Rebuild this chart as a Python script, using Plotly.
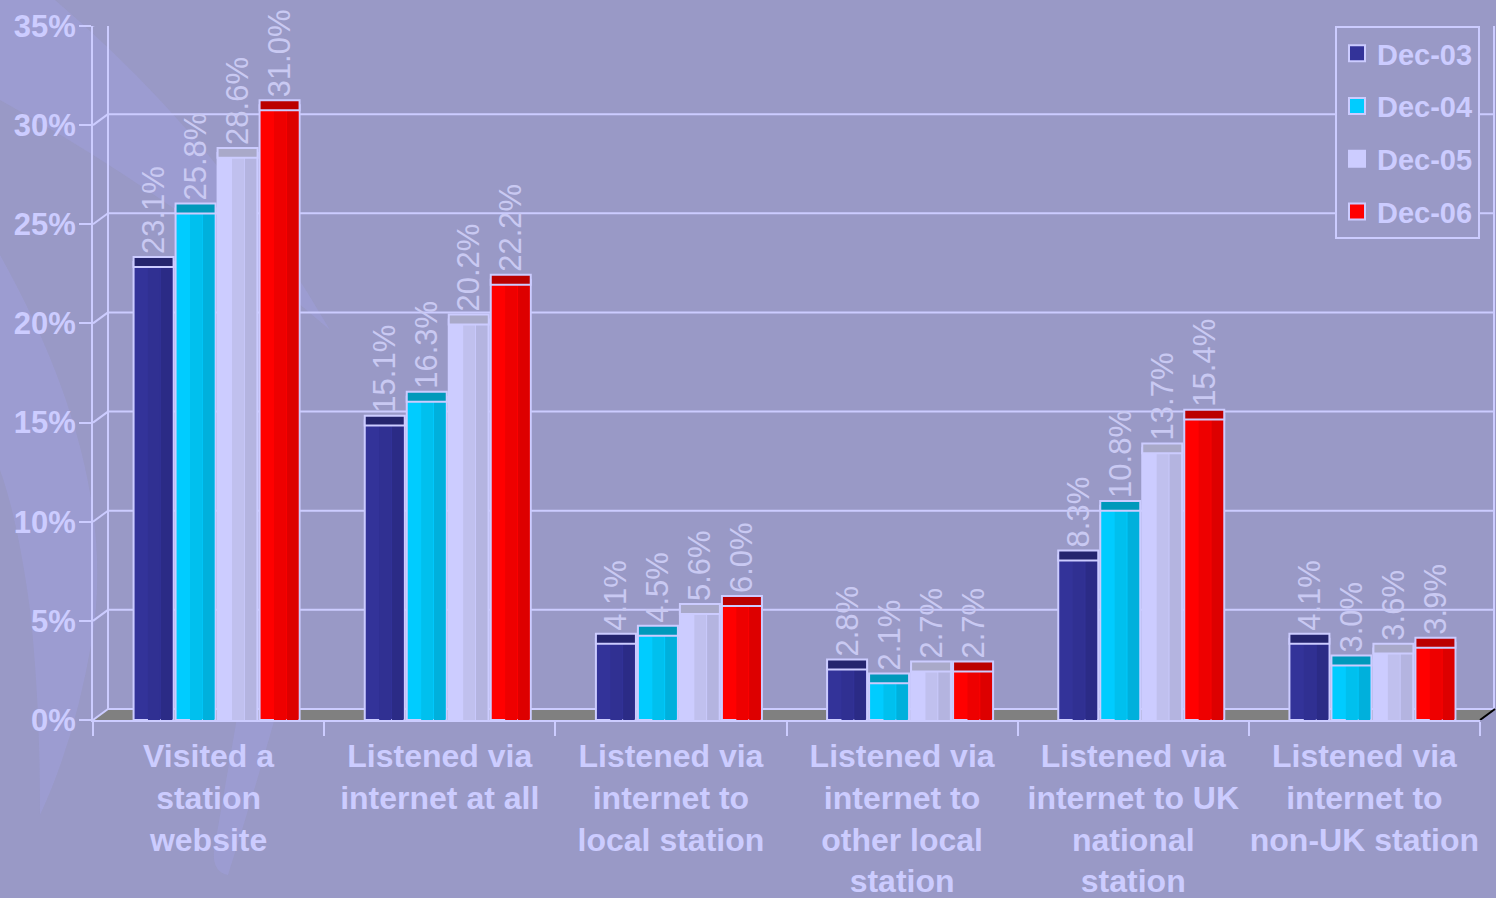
import plotly.graph_objects as go

W, H = 1496, 898

categories = [
    "Visited a<br>station<br>website",
    "Listened via<br>internet at all",
    "Listened via<br>internet to<br>local station",
    "Listened via<br>internet to<br>other local<br>station",
    "Listened via<br>internet to UK<br>national<br>station",
    "Listened via<br>internet to<br>non-UK station",
]
series_names = ["Dec-03", "Dec-04", "Dec-05", "Dec-06"]
dec03 = [23.1, 15.1, 4.1, 2.8, 8.3, 4.1]
dec04 = [25.8, 16.3, 4.5, 2.1, 10.8, 3.0]
dec05 = [28.6, 20.2, 5.6, 2.7, 13.7, 3.6]
dec06 = [31.0, 22.2, 6.0, 2.7, 15.4, 3.9]
series_values = [dec03, dec04, dec05, dec06]
y_ticks = [0, 5, 10, 15, 20, 25, 30, 35]

# left / middle / right / cap shades (cylinder look)
shades = [
    ("#333399", "#303092", "#2B2B86", "#25256E"),
    ("#00CCFF", "#00C0EE", "#00B0DC", "#0099BB"),
    ("#CCCCFF", "#C0C0EE", "#B4B4E0", "#A9A9C9"),
    ("#FF0000", "#EE0000", "#DD0000", "#BB0000"),
]

BG = "#9999C6"
LAV = "#CCCCFF"
FONT = "Liberation Sans, Arial, sans-serif"
CAP_H = 0.5  # cap thickness in axis units (visual styling)

fig = go.Figure()

x_front0, x_front1 = 93, 1480
y0_px, y35_px = 720, 26
DX, DY = 15, 11
slot = (x_front1 - x_front0) / len(categories)
shift = 8 / slot
bw = 40 / slot
pitch = 42 / slot
start = -(4 * pitch - (pitch - bw)) / 2 + shift

for i, (name, vals) in enumerate(zip(series_names, series_values)):
    off = start + i * pitch
    c_l, c_m, c_r, c_cap = shades[i]
    fig.add_trace(go.Bar(
        x=categories, y=vals, name=name, legendgroup=name, showlegend=False,
        offset=off, width=bw,
        marker=dict(color=c_l, line=dict(color=LAV, width=2)),
        hoverinfo="skip",
    ))
    fig.add_trace(go.Bar(
        x=categories, y=vals, legendgroup=name, showlegend=False,
        offset=off + bw * 0.36, width=bw * 0.3,
        marker=dict(color=c_m, line=dict(width=0)), hoverinfo="skip",
    ))
    fig.add_trace(go.Bar(
        x=categories, y=vals, legendgroup=name, showlegend=False,
        offset=off + bw * 0.68, width=bw * 0.29,
        marker=dict(color=c_r, line=dict(width=0)), hoverinfo="skip",
    ))
    # cylinder top cap carrying the value label
    fig.add_trace(go.Bar(
        x=categories, y=[CAP_H] * len(vals), base=[v - CAP_H / 2 for v in vals],
        legendgroup=name, showlegend=False,
        offset=off, width=bw,
        marker=dict(color=c_cap, line=dict(color=LAV, width=2)),
        text=[f"{v:.1f}%" for v in vals], textposition="outside",
        textangle=-90, constraintext="none", cliponaxis=False,
        textfont=dict(family=FONT, size=31, color="#C9C9F2"),
        hoverinfo="skip",
    ))
    # legend proxy (square swatch with light border)
    fig.add_trace(go.Scatter(
        x=[None], y=[None], mode="markers", name=name, legendgroup=name,
        marker=dict(symbol="square", size=16, color=c_l, line=dict(color=LAV, width=2)),
        hoverinfo="skip",
    ))

shapes = []
# decorative background swooshes (pixel paths anchored to top-left of page)
swooshes = [
    "M 0 0 L 55 0 Q 220 140 330 330 Q 180 200 0 100 Z",
    "M 0 255 Q 120 470 92 640 Q 75 740 40 815 Q 40 700 30 610 Q 18 520 0 470 Z",
    "M 240 700 L 280 700 Q 255 790 228 875 Q 212 872 214 850 Q 228 770 240 700 Z",
]
for p in swooshes:
    pts = p.split()
    toks = []
    j = 0
    while j < len(pts):
        t = pts[j]
        if t.isalpha():
            toks.append(t)
            j += 1
        else:
            toks.append(pts[j])
            toks.append(str(-float(pts[j + 1])))
            j += 2
    shapes.append(dict(
        type="path", xref="paper", yref="paper", xsizemode="pixel", ysizemode="pixel",
        xanchor=0, yanchor=1, path=" ".join(toks),
        fillcolor="rgba(160,160,220,0.5)", line=dict(width=0), layer="below",
    ))
# floor
shapes.append(dict(
    type="path", xref="paper", yref="y", xsizemode="pixel", ysizemode="pixel",
    xanchor=x_front0 / W, yanchor=0,
    path=f"M 0 0 L {x_front1 - x_front0} 0 L {x_front1 - x_front0 + DX} {DY} L {DX} {DY} Z",
    fillcolor="#808080", line=dict(width=0), layer="below",
))
# back gridlines and diagonal connectors
for v in y_ticks:
    shapes.append(dict(
        type="line", xref="paper", yref="y", ysizemode="pixel", yanchor=v,
        x0=(x_front0 + DX) / W, x1=(x_front1 + DX) / W, y0=DY, y1=DY,
        line=dict(color=LAV, width=2), layer="below",
    ))
    shapes.append(dict(
        type="line", xref="paper", yref="y", xsizemode="pixel", ysizemode="pixel",
        xanchor=x_front0 / W, yanchor=v, x0=0, x1=DX, y0=0, y1=DY,
        line=dict(color=LAV, width=2), layer="below",
    ))
# back wall verticals
for xp in (x_front0 + DX, x_front1 + DX - 1):
    shapes.append(dict(
        type="line", xref="paper", yref="y", ysizemode="pixel", yanchor=0,
        x0=xp / W, x1=xp / W, y0=DY, y1=DY + (y0_px - y35_px),
        line=dict(color=LAV, width=2), layer="below",
    ))
# floor right edge
shapes.append(dict(
    type="line", xref="paper", yref="y", xsizemode="pixel", ysizemode="pixel",
    xanchor=x_front1 / W, yanchor=0, x0=0, x1=DX, y0=0, y1=DY,
    line=dict(color="#000000", width=2),
))

fig.update_layout(
    width=W, height=H, autosize=False,
    margin=dict(l=0, r=0, t=0, b=0, autoexpand=False),
    paper_bgcolor=BG, plot_bgcolor="rgba(0,0,0,0)",
    barmode="overlay",
    shapes=shapes,
    font=dict(family=FONT, color=LAV),
    xaxis=dict(
        domain=[x_front0 / W, x_front1 / W], automargin=False,
        type="category", range=[-0.5, len(categories) - 0.5],
        showline=True, linecolor=LAV, linewidth=2,
        ticks="outside", tickson="boundaries", ticklen=14, tickcolor=LAV, tickwidth=2,
        showgrid=False, zeroline=False,
        tickfont=dict(family=FONT, size=32, color=LAV, weight="bold"),
        tickangle=0, ticklabelstandoff=7,
    ),
    yaxis=dict(
        domain=[1 - y0_px / H, 1 - y35_px / H], automargin=False,
        range=[0, 35], tickvals=y_ticks, ticktext=[f"{v}%" for v in y_ticks],
        showline=True, linecolor=LAV, linewidth=2,
        ticks="outside", ticklen=12, tickcolor=LAV, tickwidth=2,
        showgrid=False, zeroline=False,
        tickfont=dict(family=FONT, size=31, color=LAV, weight="bold"),
        ticklabelstandoff=-3,
    ),
    legend=dict(
        x=x_front1 / W, xanchor="right", y=1 - 26 / H, yanchor="top",
        bgcolor=BG, bordercolor=LAV, borderwidth=2,
        font=dict(family=FONT, size=29, color=LAV, weight="bold"),
        tracegroupgap=12, traceorder="grouped", itemsizing="trace",
    ),
    showlegend=True,
)

fig.write_html("out.html")
